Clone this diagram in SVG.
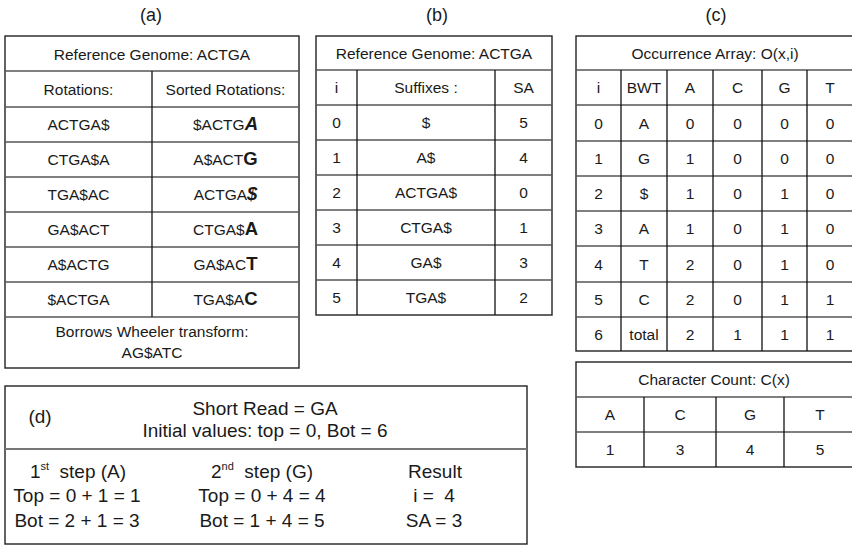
<svg xmlns="http://www.w3.org/2000/svg" width="852" height="547" viewBox="0 0 852 547">
<style>
text{font-family:"Liberation Sans",Arial,sans-serif;fill:#1a1a1a;text-anchor:middle;white-space:pre}
.t{font-size:15.5px}
.ttl{font-size:18px}
.d{font-size:19px}
.b{font-weight:bold;font-size:18.5px}
.bi{font-weight:bold;font-style:italic;font-size:18.5px}
.box{fill:#fff;stroke:#222;stroke-width:1.4}
.hl{stroke:#555;stroke-width:1.4}
.vl{stroke:#111;stroke-width:1.3}
.sup{font-size:11px}
</style>
<rect width="852" height="547" fill="#fff"/>

<g id="titles">
<text class="ttl" x="151" y="21">(a)</text>
<text class="ttl" x="437" y="21">(b)</text>
<text class="ttl" x="716" y="21">(c)</text>
</g>

<g id="table-a">
<rect class="box" x="5" y="36" width="294" height="332"/>
<line class="hl" x1="5" y1="71" x2="299" y2="71"/>
<line class="hl" x1="5" y1="107" x2="299" y2="107"/>
<line class="hl" x1="5" y1="142" x2="299" y2="142"/>
<line class="hl" x1="5" y1="177" x2="299" y2="177"/>
<line class="hl" x1="5" y1="212" x2="299" y2="212"/>
<line class="hl" x1="5" y1="247" x2="299" y2="247"/>
<line class="hl" x1="5" y1="282" x2="299" y2="282"/>
<line class="hl" x1="5" y1="317" x2="299" y2="317"/>
<line class="vl" x1="152" y1="71" x2="152" y2="317"/>
<text class="t" x="152" y="60">Reference Genome: ACTGA</text>
<text class="t" x="78.5" y="95">Rotations:</text>
<text class="t" x="225.5" y="95">Sorted Rotations:</text>
<text class="t" x="78.5" y="130">ACTGA$</text>
<text class="t" x="78.5" y="165">CTGA$A</text>
<text class="t" x="78.5" y="200">TGA$AC</text>
<text class="t" x="78.5" y="235">GA$ACT</text>
<text class="t" x="78.5" y="270">A$ACTG</text>
<text class="t" x="78.5" y="305">$ACTGA</text>
<text class="t" x="225.5" y="130">$ACTG<tspan class="bi">A</tspan></text>
<text class="t" x="225.5" y="165">A$ACT<tspan class="b">G</tspan></text>
<text class="t" x="225.5" y="200">ACTGA<tspan class="bi">$</tspan></text>
<text class="t" x="225.5" y="235">CTGA$<tspan class="b">A</tspan></text>
<text class="t" x="225.5" y="270">GA$AC<tspan class="b">T</tspan></text>
<text class="t" x="225.5" y="305">TGA$A<tspan class="b">C</tspan></text>
<text class="t" x="152" y="337">Borrows Wheeler transform:</text>
<text class="t" x="152" y="358">AG$ATC</text>
</g>

<g id="table-b">
<rect class="box" x="316" y="36" width="236" height="279"/>
<line class="hl" x1="316" y1="70" x2="552" y2="70"/>
<line class="hl" x1="316" y1="105" x2="552" y2="105"/>
<line class="hl" x1="316" y1="140" x2="552" y2="140"/>
<line class="hl" x1="316" y1="175" x2="552" y2="175"/>
<line class="hl" x1="316" y1="210" x2="552" y2="210"/>
<line class="hl" x1="316" y1="245" x2="552" y2="245"/>
<line class="hl" x1="316" y1="280" x2="552" y2="280"/>
<line class="vl" x1="357" y1="70" x2="357" y2="315"/>
<line class="vl" x1="495" y1="70" x2="495" y2="315"/>
<text class="t" x="434" y="58.5">Reference Genome: ACTGA</text>
<text class="t" x="336.5" y="93">i</text>
<text class="t" x="426" y="93">Suffixes :</text>
<text class="t" x="523.5" y="93">SA</text>
<text class="t" x="336.5" y="128">0</text><text class="t" x="426" y="128">$</text><text class="t" x="523.5" y="128">5</text>
<text class="t" x="336.5" y="163">1</text><text class="t" x="426" y="163">A$</text><text class="t" x="523.5" y="163">4</text>
<text class="t" x="336.5" y="198">2</text><text class="t" x="426" y="198">ACTGA$</text><text class="t" x="523.5" y="198">0</text>
<text class="t" x="336.5" y="233">3</text><text class="t" x="426" y="233">CTGA$</text><text class="t" x="523.5" y="233">1</text>
<text class="t" x="336.5" y="268">4</text><text class="t" x="426" y="268">GA$</text><text class="t" x="523.5" y="268">3</text>
<text class="t" x="336.5" y="303">5</text><text class="t" x="426" y="303">TGA$</text><text class="t" x="523.5" y="303">2</text>
</g>

<g id="table-c">
<rect class="box" x="576" y="36" width="278" height="315"/>
<line class="hl" x1="576" y1="70" x2="852" y2="70"/>
<line class="hl" x1="576" y1="105" x2="852" y2="105"/>
<line class="hl" x1="576" y1="141" x2="852" y2="141"/>
<line class="hl" x1="576" y1="176" x2="852" y2="176"/>
<line class="hl" x1="576" y1="211" x2="852" y2="211"/>
<line class="hl" x1="576" y1="246" x2="852" y2="246"/>
<line class="hl" x1="576" y1="282" x2="852" y2="282"/>
<line class="hl" x1="576" y1="317" x2="852" y2="317"/>
<line class="vl" x1="621" y1="70" x2="621" y2="351"/>
<line class="vl" x1="667" y1="70" x2="667" y2="351"/>
<line class="vl" x1="713" y1="70" x2="713" y2="351"/>
<line class="vl" x1="762" y1="70" x2="762" y2="351"/>
<line class="vl" x1="807" y1="70" x2="807" y2="351"/>
<text class="t" x="715" y="58.5">Occurrence Array: O(x,i)</text>
<g>
<text class="t" x="598.5" y="93">i</text><text class="t" x="644" y="93">BWT</text><text class="t" x="690" y="93">A</text><text class="t" x="737.5" y="93">C</text><text class="t" x="784.5" y="93">G</text><text class="t" x="830" y="93">T</text>
<text class="t" x="598.5" y="128.5">0</text><text class="t" x="644" y="128.5">A</text><text class="t" x="690" y="128.5">0</text><text class="t" x="737.5" y="128.5">0</text><text class="t" x="784.5" y="128.5">0</text><text class="t" x="830" y="128.5">0</text>
<text class="t" x="598.5" y="164">1</text><text class="t" x="644" y="164">G</text><text class="t" x="690" y="164">1</text><text class="t" x="737.5" y="164">0</text><text class="t" x="784.5" y="164">0</text><text class="t" x="830" y="164">0</text>
<text class="t" x="598.5" y="199">2</text><text class="t" x="644" y="199">$</text><text class="t" x="690" y="199">1</text><text class="t" x="737.5" y="199">0</text><text class="t" x="784.5" y="199">1</text><text class="t" x="830" y="199">0</text>
<text class="t" x="598.5" y="234">3</text><text class="t" x="644" y="234">A</text><text class="t" x="690" y="234">1</text><text class="t" x="737.5" y="234">0</text><text class="t" x="784.5" y="234">1</text><text class="t" x="830" y="234">0</text>
<text class="t" x="598.5" y="269.5">4</text><text class="t" x="644" y="269.5">T</text><text class="t" x="690" y="269.5">2</text><text class="t" x="737.5" y="269.5">0</text><text class="t" x="784.5" y="269.5">1</text><text class="t" x="830" y="269.5">0</text>
<text class="t" x="598.5" y="305">5</text><text class="t" x="644" y="305">C</text><text class="t" x="690" y="305">2</text><text class="t" x="737.5" y="305">0</text><text class="t" x="784.5" y="305">1</text><text class="t" x="830" y="305">1</text>
<text class="t" x="598.5" y="339.5">6</text><text class="t" x="644" y="339.5">total</text><text class="t" x="690" y="339.5">2</text><text class="t" x="737.5" y="339.5">1</text><text class="t" x="784.5" y="339.5">1</text><text class="t" x="830" y="339.5">1</text>
</g>
</g>

<g id="char-count">
<rect class="box" x="576" y="362" width="280" height="105"/>
<line class="hl" x1="576" y1="397" x2="852" y2="397"/>
<line class="hl" x1="576" y1="432" x2="852" y2="432"/>
<line class="vl" x1="644" y1="397" x2="644" y2="467"/>
<line class="vl" x1="716" y1="397" x2="716" y2="467"/>
<line class="vl" x1="784" y1="397" x2="784" y2="467"/>
<text class="t" x="714" y="385">Character Count: C(x)</text>
<text class="t" x="610" y="420">A</text><text class="t" x="680" y="420">C</text><text class="t" x="750" y="420">G</text><text class="t" x="820" y="420">T</text>
<text class="t" x="610" y="455">1</text><text class="t" x="680" y="455">3</text><text class="t" x="750" y="455">4</text><text class="t" x="820" y="455">5</text>
</g>

<g id="panel-d">
<rect class="box" x="5" y="386" width="522" height="158"/>
<line stroke="#777" stroke-width="2" x1="5" y1="449" x2="527" y2="449"/>
<text class="d" x="40" y="423">(d)</text>
<text class="d" x="265" y="415">Short Read = GA</text>
<text class="d" x="265" y="437">Initial values: top = 0, Bot = 6</text>
<text class="d" x="78" y="478">1<tspan class="sup" dy="-8">st</tspan><tspan dy="8">  step (A)</tspan></text>
<text class="d" x="77" y="502">Top = 0 + 1 = 1</text>
<text class="d" x="77" y="527">Bot = 2 + 1 = 3</text>
<text class="d" x="262" y="478">2<tspan class="sup" dy="-8">nd</tspan><tspan dy="8">  step (G)</tspan></text>
<text class="d" x="262" y="502">Top = 0 + 4 = 4</text>
<text class="d" x="262" y="527">Bot = 1 + 4 = 5</text>
<text class="d" x="435" y="478">Result</text>
<text class="d" x="434" y="502">i =  4</text>
<text class="d" x="434" y="527">SA = 3</text>
</g>
</svg>
